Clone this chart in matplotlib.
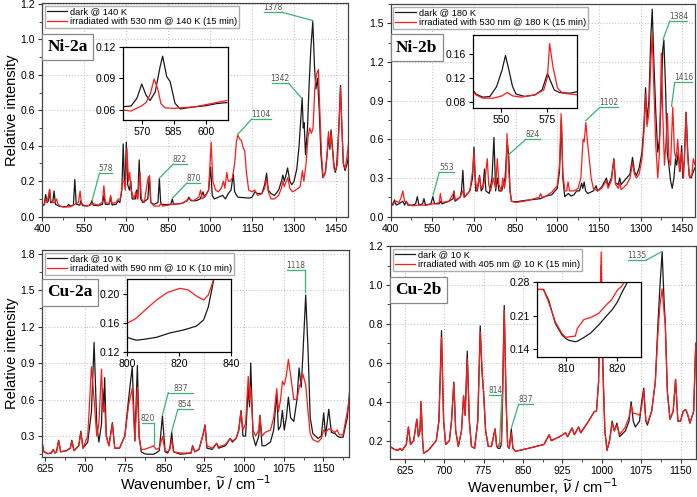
import matplotlib.pyplot as plt
from matplotlib.ticker import MultipleLocator, FormatStrFormatter

plt.rcParams['font.family'] = ['Liberation Sans', 'DejaVu Sans']
plt.rcParams['mathtext.fontset'] = 'dejavusans'
plt.rcParams['lines.solid_joinstyle'] = 'round'

# ---------------- Ni-2a (dark @ 140 K / 530 nm @ 140 K) ----------------
ni2a_dark_x = [400, 408, 413, 418, 423, 427, 431, 438, 443, 448, 460, 475, 490, 495, 500, 512, 517, 522, 535, 539, 545, 560, 572, 578, 583, 600, 616, 621, 626, 640, 645, 650, 665, 672, 678, 685, 690, 694, 697, 701, 706, 712, 717, 722, 733, 738, 742, 747, 752, 760, 778, 783, 788, 800, 814, 819, 824, 840, 860, 865, 870, 900, 918, 924, 932, 950, 965, 975, 980, 995, 1002, 1008, 1015, 1030, 1045, 1055, 1065, 1075, 1083, 1088, 1095, 1100, 1140, 1150, 1160, 1170, 1185, 1195, 1202, 1208, 1218, 1230, 1245, 1255, 1260, 1265, 1272, 1277, 1285, 1292, 1300, 1310, 1318, 1324, 1329, 1333, 1336, 1341, 1348, 1354, 1360, 1367, 1373, 1378, 1384, 1390, 1396, 1403, 1412, 1418, 1423, 1428, 1432, 1437, 1442, 1447, 1452, 1460, 1466, 1471, 1476, 1482, 1490, 1495]
ni2a_dark_y = [0.065, 0.07, 0.125, 0.08, 0.09, 0.15, 0.08, 0.08, 0.145, 0.07, 0.06, 0.055, 0.058, 0.07, 0.06, 0.065, 0.21, 0.07, 0.065, 0.09, 0.062, 0.06, 0.065, 0.09, 0.065, 0.062, 0.07, 0.12, 0.07, 0.07, 0.11, 0.066, 0.07, 0.09, 0.08, 0.15, 0.41, 0.2, 0.2, 0.42, 0.18, 0.15, 0.2, 0.1, 0.1, 0.15, 0.1, 0.32, 0.1, 0.08, 0.1, 0.23, 0.08, 0.07, 0.08, 0.215, 0.07, 0.068, 0.07, 0.1, 0.07, 0.075, 0.09, 0.11, 0.09, 0.09, 0.1, 0.14, 0.11, 0.15, 0.28, 0.12, 0.1, 0.11, 0.12, 0.1, 0.13, 0.15, 0.24, 0.14, 0.12, 0.11, 0.105, 0.11, 0.14, 0.13, 0.13, 0.18, 0.245, 0.15, 0.13, 0.12, 0.15, 0.2, 0.235, 0.2, 0.24, 0.275, 0.2, 0.18, 0.2, 0.27, 0.4, 0.55, 0.67, 0.5, 0.53, 0.35, 0.5, 0.75, 0.95, 1.1, 0.85, 0.72, 0.78, 0.6, 0.35, 0.22, 0.25, 0.35, 0.45, 0.38, 0.49, 0.4, 0.3, 0.25, 0.28, 0.5, 0.74, 0.5, 0.3, 0.26, 0.3, 0.35]
ni2a_irr_x = [400, 408, 413, 418, 422, 427, 431, 438, 446, 452, 457, 465, 480, 500, 517, 530, 536, 541, 560, 575, 580, 600, 615, 621, 626, 640, 645, 650, 665, 672, 680, 688, 693, 697, 703, 709, 713, 718, 728, 735, 740, 750, 755, 765, 779, 784, 789, 800, 819, 825, 830, 850, 865, 900, 925, 940, 960, 966, 972, 985, 995, 1004, 1010, 1020, 1030, 1040, 1048, 1053, 1060, 1065, 1072, 1080, 1088, 1094, 1099, 1105, 1112, 1118, 1124, 1130, 1138, 1150, 1160, 1170, 1185, 1195, 1202, 1208, 1218, 1230, 1245, 1255, 1260, 1265, 1272, 1278, 1285, 1295, 1305, 1315, 1322, 1330, 1335, 1343, 1350, 1356, 1362, 1368, 1374, 1380, 1387, 1392, 1398, 1404, 1412, 1418, 1423, 1428, 1432, 1437, 1443, 1448, 1455, 1460, 1466, 1471, 1476, 1483, 1490, 1495]
ni2a_irr_y = [0.06, 0.065, 0.1, 0.08, 0.11, 0.155, 0.09, 0.08, 0.08, 0.1, 0.07, 0.06, 0.055, 0.055, 0.07, 0.08, 0.145, 0.07, 0.06, 0.07, 0.075, 0.065, 0.08, 0.175, 0.08, 0.075, 0.12, 0.075, 0.08, 0.1, 0.1, 0.2, 0.2, 0.15, 0.385, 0.2, 0.25, 0.15, 0.1, 0.14, 0.1, 0.25, 0.1, 0.08, 0.22, 0.23, 0.08, 0.06, 0.06, 0.08, 0.06, 0.065, 0.07, 0.075, 0.1, 0.09, 0.11, 0.15, 0.1, 0.12, 0.15, 0.42, 0.2, 0.15, 0.14, 0.16, 0.2, 0.16, 0.25, 0.2, 0.2, 0.22, 0.3, 0.42, 0.46, 0.44, 0.43, 0.39, 0.37, 0.25, 0.15, 0.14, 0.15, 0.12, 0.13, 0.16, 0.215, 0.14, 0.1, 0.1, 0.12, 0.16, 0.2, 0.17, 0.2, 0.22, 0.16, 0.14, 0.15, 0.16, 0.17, 0.26, 0.2, 0.3, 0.45, 0.5, 0.47, 0.5, 0.72, 0.8, 0.83, 0.6, 0.35, 0.22, 0.25, 0.35, 0.48, 0.4, 0.47, 0.38, 0.27, 0.26, 0.3, 0.5, 0.73, 0.5, 0.3, 0.27, 0.35, 0.42]
ni2a_in_dark_x = [561, 565, 567.7, 570, 572, 573.9, 576.3, 578.6, 579.8, 581.7, 583.3, 585.6, 588, 595, 600, 605, 610]
ni2a_in_dark_y = [0.063, 0.0638, 0.071, 0.0846, 0.074, 0.069, 0.077, 0.101, 0.111, 0.0916, 0.087, 0.0663, 0.061, 0.063, 0.064, 0.066, 0.067]
ni2a_in_irr_x = [561, 565, 570, 572, 574, 575.8, 577.5, 579, 581, 585, 588, 595, 600, 605, 610]
ni2a_in_irr_y = [0.06, 0.059, 0.064, 0.067, 0.075, 0.0894, 0.08, 0.066, 0.062, 0.0615, 0.062, 0.063, 0.065, 0.067, 0.069]

# ---------------- Ni-2b (dark @ 180 K / 530 nm @ 180 K) ----------------
ni2b_dark_x = [400, 408, 414, 420, 430, 444, 450, 456, 462, 480, 490, 496, 502, 515, 520, 525, 545, 552, 558, 575, 579, 585, 610, 625, 628, 632, 650, 655, 660, 665, 685, 695, 700, 706, 712, 720, 726, 732, 738, 743, 755, 765, 772, 778, 784, 790, 800, 806, 812, 820, 825, 830, 835, 850, 880, 900, 940, 960, 980, 1000, 1008, 1015, 1020, 1027, 1040, 1050, 1060, 1070, 1080, 1088, 1092, 1097, 1102, 1110, 1130, 1140, 1145, 1160, 1177, 1183, 1195, 1204, 1210, 1220, 1225, 1230, 1250, 1262, 1271, 1278, 1285, 1295, 1305, 1312, 1318, 1323, 1330, 1337, 1342, 1348, 1355, 1362, 1368, 1374, 1380, 1384, 1390, 1396, 1402, 1408, 1414, 1420, 1426, 1430, 1436, 1442, 1448, 1452, 1458, 1464, 1470, 1475, 1482, 1490, 1496]
ni2b_dark_y = [0.1, 0.09, 0.13, 0.09, 0.1, 0.12, 0.09, 0.12, 0.09, 0.09, 0.1, 0.155, 0.09, 0.1, 0.14, 0.09, 0.1, 0.155, 0.1, 0.1, 0.12, 0.1, 0.12, 0.14, 0.2, 0.12, 0.15, 0.2, 0.36, 0.15, 0.2, 0.3, 0.54, 0.2, 0.2, 0.32, 0.2, 0.22, 0.37, 0.2, 0.18, 0.3, 0.615, 0.2, 0.3, 0.2, 0.2, 0.25, 0.3, 0.58, 0.48, 0.2, 0.12, 0.115, 0.125, 0.13, 0.14, 0.16, 0.17, 0.22, 0.35, 0.75, 0.3, 0.155, 0.18, 0.16, 0.17, 0.2, 0.2, 0.26, 0.22, 0.27, 0.2, 0.18, 0.2, 0.24, 0.2, 0.23, 0.3, 0.24, 0.3, 0.45, 0.26, 0.25, 0.3, 0.25, 0.3, 0.33, 0.46, 0.35, 0.32, 0.38, 0.5, 0.7, 1.0, 0.75, 0.9, 1.4, 1.61, 1.2, 0.8, 0.5, 0.6, 0.9, 1.3, 1.37, 1.0, 0.5, 0.4, 0.28, 0.22, 0.3, 0.45, 0.4, 0.5, 0.35, 0.55, 0.3, 0.45, 0.81, 0.5, 0.32, 0.3, 0.35, 0.38]
ni2b_irr_x = [400, 410, 420, 430, 438, 444, 450, 460, 465, 480, 500, 530, 552, 560, 575, 579, 584, 610, 628, 632, 650, 660, 665, 685, 695, 700, 705, 710, 720, 725, 735, 742, 748, 753, 760, 770, 778, 784, 790, 798, 804, 810, 815, 819, 824, 830, 835, 850, 880, 900, 935, 940, 945, 960, 980, 1000, 1008, 1014, 1020, 1027, 1034, 1039, 1044, 1060, 1075, 1085, 1093, 1097, 1103, 1108, 1115, 1122, 1130, 1145, 1160, 1177, 1183, 1195, 1204, 1210, 1220, 1225, 1230, 1250, 1262, 1271, 1278, 1285, 1295, 1305, 1312, 1318, 1323, 1330, 1337, 1342, 1348, 1355, 1362, 1368, 1375, 1380, 1386, 1392, 1397, 1402, 1408, 1416, 1422, 1428, 1434, 1440, 1448, 1455, 1464, 1470, 1477, 1485, 1490, 1496]
ni2b_irr_y = [0.11, 0.1, 0.12, 0.11, 0.15, 0.2, 0.12, 0.11, 0.09, 0.085, 0.09, 0.09, 0.1, 0.1, 0.11, 0.18, 0.11, 0.12, 0.19, 0.13, 0.15, 0.2, 0.15, 0.2, 0.35, 0.5, 0.3, 0.2, 0.31, 0.22, 0.25, 0.33, 0.45, 0.25, 0.2, 0.3, 0.22, 0.45, 0.25, 0.2, 0.3, 0.22, 0.3, 0.645, 0.4, 0.2, 0.12, 0.11, 0.12, 0.13, 0.15, 0.18, 0.15, 0.16, 0.19, 0.24, 0.4, 0.8, 0.35, 0.2, 0.2, 0.27, 0.2, 0.2, 0.22, 0.3, 0.6, 0.58, 0.73, 0.6, 0.45, 0.3, 0.22, 0.2, 0.22, 0.28, 0.22, 0.28, 0.44, 0.25, 0.22, 0.26, 0.21, 0.25, 0.3, 0.42, 0.33, 0.3, 0.33, 0.45, 0.65, 0.95, 0.7, 0.8, 1.2, 1.42, 1.0, 0.55, 0.3, 0.5, 1.27, 0.8, 0.4, 0.6, 0.8, 0.45, 0.4, 0.85, 0.5, 0.45, 0.6, 0.35, 0.5, 0.3, 0.81, 0.45, 0.3, 0.33, 0.45, 0.4]
ni2b_in_dark_x = [535, 536.4, 540.2, 544, 547.7, 550.6, 552.5, 554.4, 556.3, 558.2, 562.9, 568.6, 572.4, 575.3, 577.1, 579, 581.8, 587.5, 591.5]
ni2b_in_dark_y = [0.0989, 0.093, 0.0878, 0.0889, 0.1056, 0.133, 0.158, 0.133, 0.106, 0.093, 0.089, 0.0917, 0.1, 0.1278, 0.114, 0.1, 0.0956, 0.0944, 0.097]
ni2b_in_irr_x = [535, 536.4, 540.2, 545.9, 550.6, 553.5, 556.3, 561, 568.6, 573.3, 575.3, 576.5, 578.3, 580.8, 583.6, 591.5]
ni2b_in_irr_y = [0.097, 0.0917, 0.086, 0.086, 0.09, 0.0956, 0.09, 0.0878, 0.0917, 0.1, 0.122, 0.178, 0.139, 0.1028, 0.0944, 0.0917]

# ---------------- Cu-2a (dark @ 10 K / 590 nm @ 10 K) ----------------
cu2a_x = [619, 622, 630, 636, 640, 643, 646, 650, 654, 665, 672, 675, 679, 688, 692, 696, 705, 712, 717, 722, 726, 731, 733, 735, 737, 740, 745, 751.5, 756, 765, 775, 782, 789, 792, 794, 798.7, 802, 806, 812, 818, 825, 829, 834, 840, 846, 851, 856, 860, 863.5, 867, 880, 900, 903, 907, 915, 922, 926.5, 930, 940, 948.5, 952, 965, 973.7, 978, 985, 990, 994.4, 998, 1003, 1008, 1010.5, 1012.7, 1017, 1022, 1028, 1030, 1034, 1040, 1050, 1056, 1061.8, 1065, 1069, 1072.5, 1076, 1080, 1083.8, 1088, 1094, 1100, 1104, 1108, 1111, 1116.5, 1121, 1125, 1130, 1140, 1146, 1150.5, 1154, 1160, 1165, 1172, 1176, 1180, 1187, 1195, 1199]
cu2a_dark = [0.25, 0.17, 0.155, 0.16, 0.19, 0.16, 0.17, 0.265, 0.17, 0.18, 0.2, 0.265, 0.18, 0.22, 0.34, 0.2, 0.25, 0.5, 1.07, 0.4, 0.25, 0.4, 0.69, 0.5, 0.78, 0.3, 0.22, 0.41, 0.2, 0.2, 0.3, 0.6, 0.87, 0.5, 0.26, 0.88, 0.3, 0.17, 0.155, 0.15, 0.15, 0.15, 0.16, 0.18, 0.465, 0.17, 0.16, 0.2, 0.33, 0.17, 0.15, 0.16, 0.22, 0.17, 0.19, 0.3, 0.39, 0.2, 0.19, 0.24, 0.2, 0.22, 0.28, 0.25, 0.28, 0.35, 0.51, 0.3, 0.3, 0.7, 0.54, 0.9, 0.3, 0.22, 0.3, 0.47, 0.22, 0.22, 0.25, 0.35, 0.65, 0.35, 0.38, 0.51, 0.35, 0.45, 0.62, 0.45, 0.42, 0.6, 0.86, 0.7, 0.95, 1.46, 1.0, 0.45, 0.32, 0.28, 0.3, 0.49, 0.3, 0.52, 0.33, 0.32, 0.3, 0.29, 0.29, 0.45, 0.65]
cu2a_irr = [0.23, 0.17, 0.155, 0.16, 0.19, 0.16, 0.17, 0.26, 0.17, 0.18, 0.2, 0.255, 0.18, 0.22, 0.33, 0.2, 0.3, 0.87, 0.6, 0.3, 0.4, 0.85, 0.6, 0.5, 0.55, 0.3, 0.22, 0.4, 0.2, 0.2, 0.3, 0.55, 0.69, 0.45, 0.26, 0.7, 0.28, 0.19, 0.19, 0.2, 0.21, 0.22, 0.19, 0.2, 0.295, 0.18, 0.17, 0.19, 0.27, 0.17, 0.16, 0.16, 0.22, 0.17, 0.19, 0.3, 0.38, 0.22, 0.2, 0.24, 0.21, 0.23, 0.28, 0.26, 0.28, 0.34, 0.5, 0.35, 0.4, 0.79, 0.6, 0.7, 0.35, 0.3, 0.35, 0.47, 0.3, 0.33, 0.35, 0.45, 0.69, 0.5, 0.6, 0.75, 0.72, 0.8, 0.93, 0.8, 0.6, 0.6, 0.7, 0.75, 0.81, 0.72, 0.5, 0.32, 0.27, 0.25, 0.28, 0.35, 0.33, 0.36, 0.35, 0.33, 0.35, 0.31, 0.31, 0.5, 0.6]
cu2a_in_x = [800, 802.6, 803.8, 806.4, 809, 811.5, 815.3, 816.6, 820.4, 821.7, 823.6, 826.8, 829.5, 831.3, 832.6, 833.5]
cu2a_in_dark = [0.14, 0.137, 0.136, 0.137, 0.1385, 0.14, 0.1445, 0.146, 0.149, 0.15, 0.152, 0.1556, 0.164, 0.182, 0.2055, 0.222]
cu2a_in_irr = [0.1593, 0.164, 0.167, 0.1755, 0.184, 0.1917, 0.2015, 0.2032, 0.2078, 0.207, 0.2055, 0.197, 0.1917, 0.1986, 0.212, 0.222]

# ---------------- Cu-2b (dark @ 10 K / 405 nm @ 10 K) ----------------
cu2b_x = [597, 605, 612, 616, 620, 628, 632, 636, 642, 648, 651, 654, 656, 659, 661, 670, 685, 690, 695, 699, 703, 710, 714, 718.5, 722, 727, 733, 737, 740, 744, 748, 752, 758, 764, 768.7, 772, 775, 779, 784, 790, 797, 800, 803, 806, 809, 811, 814.4, 818, 821, 824, 827.8, 831, 836, 860, 890, 900, 904, 920, 931, 935, 943.5, 948, 956, 960, 975, 986, 990, 994, 997, 999, 1002, 1006, 1010, 1015, 1019.8, 1024, 1029, 1034, 1045, 1052, 1056, 1060, 1064, 1072, 1076, 1080, 1084, 1087, 1095, 1102, 1107, 1111, 1115, 1119, 1121, 1125, 1130, 1136, 1140.6, 1145, 1150, 1155, 1159.6, 1163, 1168, 1175, 1179]
cu2b_dark = [0.17, 0.155, 0.15, 0.16, 0.15, 0.18, 0.27, 0.18, 0.2, 0.31, 0.22, 0.25, 0.4, 0.2, 0.135, 0.15, 0.2, 0.3, 0.765, 0.3, 0.18, 0.2, 0.3, 0.5, 0.25, 0.17, 0.25, 0.43, 0.33, 0.66, 0.3, 0.17, 0.16, 0.3, 0.79, 0.55, 0.45, 0.25, 0.17, 0.17, 0.26, 0.17, 0.16, 0.16, 0.18, 0.4, 0.895, 0.4, 0.17, 0.16, 0.26, 0.16, 0.145, 0.16, 0.18, 0.23, 0.2, 0.22, 0.24, 0.22, 0.265, 0.23, 0.27, 0.24, 0.3, 0.35, 0.35, 0.5, 0.9, 1.1, 0.6, 0.25, 0.15, 0.2, 0.3, 0.25, 0.29, 0.22, 0.25, 0.3, 0.4, 0.3, 0.27, 0.3, 0.4, 0.47, 0.3, 0.28, 0.35, 0.5, 0.8, 1.0, 1.17, 0.9, 0.8, 0.45, 0.31, 0.35, 0.515, 0.3, 0.3, 0.35, 0.36, 0.34, 0.29, 0.35, 0.7]
cu2b_irr = [0.17, 0.155, 0.15, 0.16, 0.15, 0.18, 0.27, 0.18, 0.2, 0.31, 0.22, 0.25, 0.4, 0.2, 0.135, 0.15, 0.2, 0.3, 0.73, 0.3, 0.18, 0.2, 0.3, 0.5, 0.25, 0.17, 0.25, 0.43, 0.33, 0.62, 0.3, 0.17, 0.16, 0.3, 0.76, 0.58, 0.45, 0.25, 0.17, 0.17, 0.26, 0.17, 0.17, 0.19, 0.18, 0.4, 0.87, 0.4, 0.17, 0.16, 0.24, 0.16, 0.145, 0.16, 0.18, 0.23, 0.2, 0.22, 0.24, 0.22, 0.265, 0.23, 0.27, 0.24, 0.3, 0.35, 0.35, 0.5, 0.95, 1.17, 0.6, 0.25, 0.15, 0.2, 0.29, 0.25, 0.28, 0.23, 0.27, 0.32, 0.38, 0.34, 0.34, 0.33, 0.37, 0.46, 0.3, 0.29, 0.35, 0.5, 0.75, 0.9, 0.98, 0.85, 0.8, 0.45, 0.31, 0.35, 0.515, 0.3, 0.3, 0.35, 0.36, 0.34, 0.29, 0.35, 0.7]
cu2b_in_x = [804.4, 805.6, 806.6, 807.9, 809.2, 809.9, 810.5, 811.8, 812.2, 813.5, 814.8, 816.1, 816.3, 818.1, 818.9, 820, 820.8, 822]
cu2b_in_dark = [0.264, 0.264, 0.242, 0.194, 0.17, 0.163, 0.159, 0.156, 0.157, 0.165, 0.174, 0.188, 0.19, 0.212, 0.221, 0.238, 0.256, 0.28]
cu2b_in_irr = [0.264, 0.264, 0.238, 0.197, 0.173, 0.165, 0.166, 0.1676, 0.1835, 0.202, 0.206, 0.213, 0.214, 0.235, 0.243, 0.263, 0.27, 0.29]

BLACK = '#1a1a1a'
RED = '#ff1a1a'
GREEN = '#3cb371'


def note(ax, label, x0, x1, y, tip_x, tip_y, from_right=False):
    ax.plot([x0, x1], [y, y], color=GREEN, lw=0.9)
    sx = x1 if from_right else x0
    ax.plot([sx, tip_x], [y, tip_y], color=GREEN, lw=0.9)
    ax.text((x0 + x1) / 2, y, label, ha='center', va='bottom', fontsize=5.5,
            color='#555555', family='DejaVu Sans')


def style_main(ax, xlim, ylim, xmaj, xoff, ymaj):
    ax.set_xlim(*xlim)
    ax.set_ylim(*ylim)
    ax.xaxis.set_major_locator(MultipleLocator(xmaj, offset=xoff))
    ax.xaxis.set_minor_locator(MultipleLocator(xmaj / 2, offset=xoff % (xmaj / 2)))
    ax.yaxis.set_major_locator(MultipleLocator(ymaj))
    ax.yaxis.set_minor_locator(MultipleLocator(ymaj / 2))
    ax.yaxis.set_major_formatter(FormatStrFormatter('%.1f'))
    ax.grid(True, which='major', color='#c8c8c8', ls=':', lw=0.8)
    ax.tick_params(labelsize=7.5, length=3, width=0.8, color='#333333', pad=2)
    ax.tick_params(which='minor', length=2, width=0.6, color='#333333')
    for s in ax.spines.values():
        s.set_color('#444444')
        s.set_linewidth(0.9)
    ax.legend(loc='upper left', fontsize=6.7, frameon=True, fancybox=False,
              edgecolor='#999999', handlelength=2.2, handletextpad=0.35,
              borderpad=0.2, labelspacing=0.05, borderaxespad=0.3)


def style_inset(ax, xlim, ylim, xticks, yticks):
    ax.set_xlim(*xlim)
    ax.set_ylim(*ylim)
    ax.set_xticks(xticks)
    ax.set_yticks(yticks)
    ax.tick_params(labelsize=7.5, length=3, width=0.8, pad=2)
    for s in ax.spines.values():
        s.set_linewidth(0.9)


def tag(ax, text):
    ax.text(0.018, 0.795, text, transform=ax.transAxes, fontsize=12.5,
            fontweight='bold', family='Liberation Serif', va='center', ha='left',
            bbox=dict(boxstyle='square,pad=0.3', fc='white', ec='#888888', lw=0.9))


fig = plt.figure(figsize=(6.97, 4.97), dpi=100)
XLAB = r'Wavenumber, $\widetilde{\nu}$ / cm$^{-1}$'

# Ni-2a
ax = fig.add_axes([0.0603, 0.564, 0.4395, 0.43])
ax.plot(ni2a_dark_x, ni2a_dark_y, color=BLACK, lw=0.9, label='dark @ 140 K')
ax.plot(ni2a_irr_x, ni2a_irr_y, color=RED, lw=0.9, label='irradiated with 530 nm @ 140 K (15 min)')
style_main(ax, (400, 1494), (0, 1.205), 150, 100, 0.2)
ax.set_ylabel('Relative intensity', fontsize=10.5)
ax.yaxis.set_label_coords(-0.075, 0.5)
tag(ax, 'Ni-2a')
note(ax, '578', 605, 649, 0.245, 578.6, 0.089)
note(ax, '822', 869, 917, 0.297, 819, 0.217)
note(ax, '870', 917, 964, 0.19, 867, 0.107)
note(ax, '1104', 1149, 1217, 0.551, 1097, 0.461)
note(ax, '1342', 1220, 1280, 0.753, 1327.5, 0.668, from_right=True)
note(ax, '1378', 1194, 1256, 1.153, 1367, 1.106, from_right=True)
ins = fig.add_axes([0.1765, 0.7586, 0.151, 0.1475])
ins.plot(ni2a_in_dark_x, ni2a_in_dark_y, color=BLACK, lw=0.9)
ins.plot(ni2a_in_irr_x, ni2a_in_irr_y, color=RED, lw=0.9)
style_inset(ins, (561.2, 610.6), (0.0505, 0.12), [570, 585, 600], [0.06, 0.09, 0.12])

# Ni-2b
ax = fig.add_axes([0.5605, 0.564, 0.4366, 0.428])
ax.plot(ni2b_dark_x, ni2b_dark_y, color=BLACK, lw=0.9, label='dark @ 180 K')
ax.plot(ni2b_irr_x, ni2b_irr_y, color=RED, lw=0.9, label='irradiated with 530 nm @ 180 K (15 min)')
style_main(ax, (400, 1496), (0, 1.65), 150, 100, 0.3)
tag(ax, 'Ni-2b')
note(ax, '553', 575, 628, 0.344, 553, 0.168)
note(ax, '824', 887, 937, 0.6, 823, 0.478)
note(ax, '1102', 1153, 1219, 0.847, 1102, 0.744)
note(ax, '1384', 1405, 1469, 1.516, 1381, 1.374)
note(ax, '1416', 1423, 1487, 1.041, 1411.5, 0.857)
ins = fig.add_axes([0.679, 0.7821, 0.1492, 0.1475])
ins.plot(ni2b_in_dark_x, ni2b_in_dark_y, color=BLACK, lw=0.9)
ins.plot(ni2b_in_irr_x, ni2b_in_irr_y, color=RED, lw=0.9)
style_inset(ins, (535, 591.5), (0.069, 0.1926), [550, 575], [0.08, 0.12, 0.16])

# Cu-2a
ax = fig.add_axes([0.0603, 0.0811, 0.441, 0.416])
ax.plot(cu2a_x, cu2a_dark, color=BLACK, lw=0.9, label='dark @ 10 K')
ax.plot(cu2a_x, cu2a_irr, color=RED, lw=0.9, label='irradiated with 590 nm @ 10 K (10 min)')
style_main(ax, (618.7, 1199), (0.13, 1.83), 75, 25, 0.3)
ax.set_ylabel('Relative intensity', fontsize=10.5)
ax.yaxis.set_label_coords(-0.075, 0.5)
ax.set_xlabel(XLAB, fontsize=10.5)
ax.xaxis.set_label_coords(0.5, -0.08)
tag(ax, 'Cu-2a')
note(ax, '820', 807, 831, 0.404, 831, 0.226, from_right=True)
note(ax, '837', 857, 903, 0.656, 846, 0.472)
note(ax, '854', 875, 903, 0.519, 863.5, 0.336)
note(ax, '1118', 1080.6, 1115, 1.669, 1115, 1.485, from_right=True)
ins = fig.add_axes([0.1818, 0.2924, 0.1496, 0.1457])
ins.plot(cu2a_in_x, cu2a_in_dark, color=BLACK, lw=0.9)
ins.plot(cu2a_in_x, cu2a_in_irr, color=RED, lw=0.9)
style_inset(ins, (800, 840), (0.12, 0.2204), [800, 820, 840], [0.12, 0.16, 0.20])

# Cu-2b
ax = fig.add_axes([0.5596, 0.0759, 0.4386, 0.429])
ax.plot(cu2b_x, cu2b_dark, color=BLACK, lw=0.9, label='dark @ 10 K')
ax.plot(cu2b_x, cu2b_irr, color=RED, lw=0.9, label='irradiated with 405 nm @ 10 K (15 min)')
style_main(ax, (597, 1179), (0.104, 1.2), 75, 25, 0.2)
ax.set_xlabel(XLAB, fontsize=10.5)
ax.xaxis.set_label_coords(0.5, -0.08)
tag(ax, 'Cu-2b')
note(ax, '814', 785.8, 810, 0.435, 805, 0.166, from_right=True)
note(ax, '837', 841.8, 868.5, 0.387, 827.8, 0.263)
note(ax, '1135', 1050, 1085, 1.128, 1114, 1.171, from_right=True)
ins = fig.add_axes([0.7709, 0.2823, 0.1488, 0.1509])
ins.plot(cu2b_in_x, cu2b_in_dark, color=BLACK, lw=0.9)
ins.plot(cu2b_in_x, cu2b_in_irr, color=RED, lw=0.9)
style_inset(ins, (804.4, 824.6), (0.125, 0.28), [810, 820], [0.14, 0.21, 0.28])

fig.savefig('out.png', dpi=100)
